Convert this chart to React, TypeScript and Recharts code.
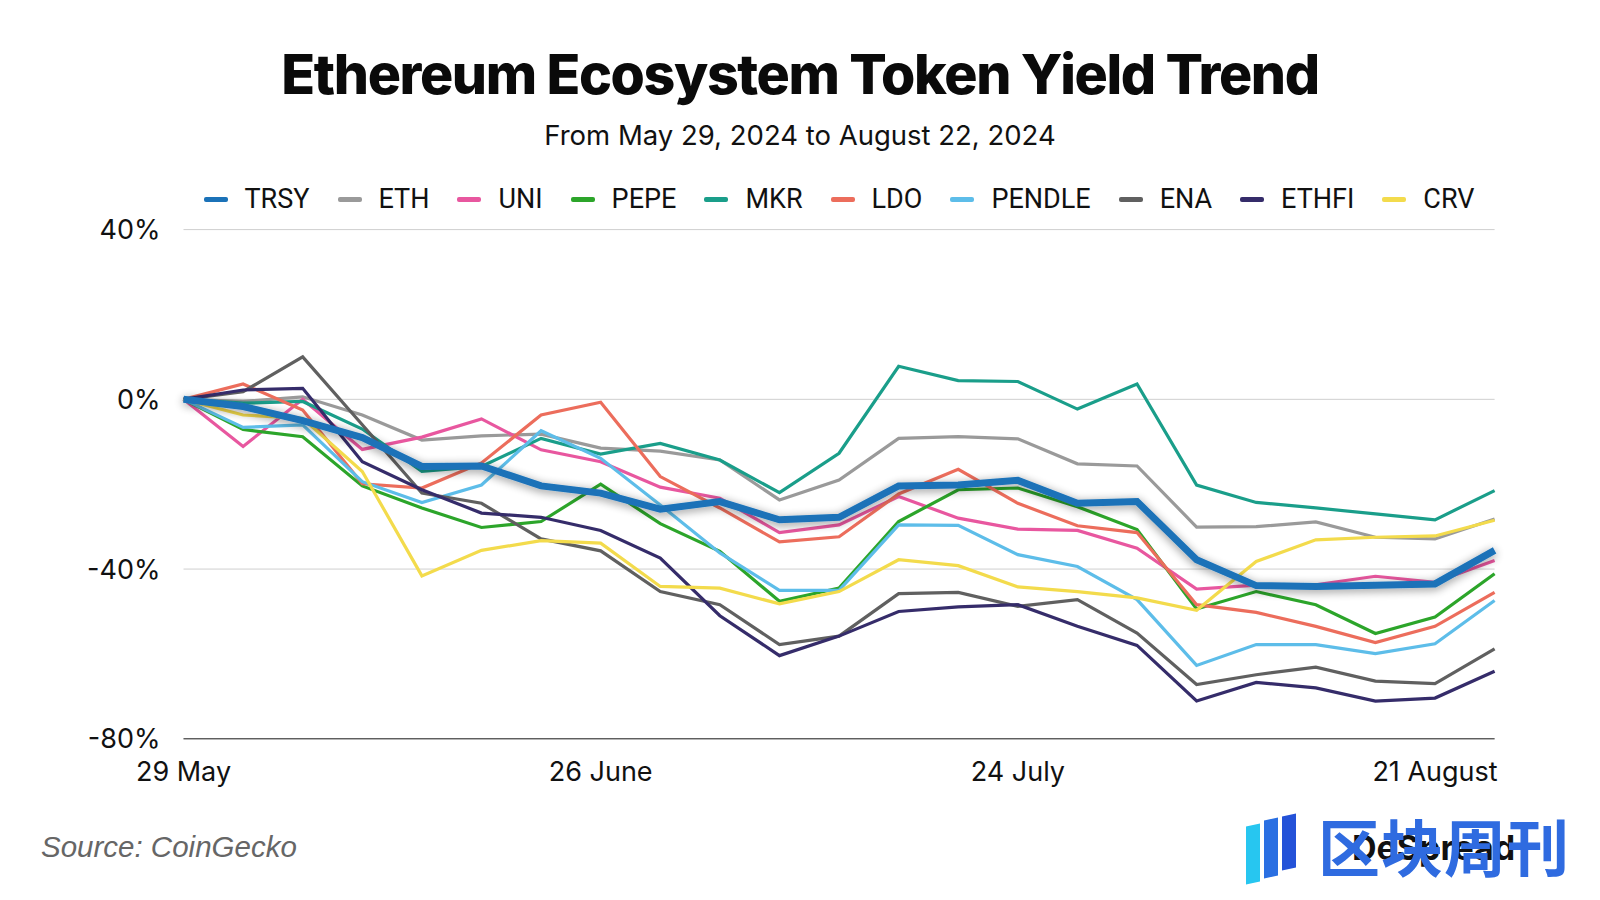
import { LineChart, Line, XAxis, YAxis, CartesianGrid } from 'recharts';

const dates = [
  '29 May', '2 June', '6 June', '10 June', '14 June', '18 June', '22 June', '26 June',
  '30 June', '4 July', '8 July', '12 July', '16 July', '20 July', '24 July', '28 July',
  '1 August', '5 August', '9 August', '13 August', '17 August', '21 August', '25 August',
];

const xTicks = ['29 May', '26 June', '24 July', '21 August'];
const yTicks = [-80, -40, 0, 40];

const trsy = [0, -1.7, -5, -9, -15.8, -15.7, -20.4, -22.1, -25.9, -24.1, -28.4, -27.8, -20.4, -20.2, -19.1, -24.5, -24.1, -37.8, -43.9, -44.1, -43.8, -43.5, -35.6];
const eth = [0, -0.5, 0.6, -3.7, -9.6, -8.6, -8.2, -11.5, -12.2, -14.3, -23.7, -19, -9.2, -8.8, -9.3, -15.2, -15.7, -30.1, -30, -28.9, -32.5, -32.9, -28.2];
const uni = [0, -11.1, 0, -11.8, -8.9, -4.6, -11.9, -14.7, -20.7, -23.3, -31.4, -29.6, -22.9, -28, -30.6, -30.9, -35.1, -44.7, -43.8, -43.7, -41.7, -43.1, -38];
const pepe = [0, -7.1, -8.8, -20.4, -25.6, -30.2, -28.8, -20, -29.3, -35.8, -47.6, -44.5, -28.8, -21.3, -20.9, -25.3, -30.7, -49.4, -45.3, -48.4, -55.2, -51.3, -41.1];
const mkr = [0, -0.9, -0.5, -7, -17, -15.8, -9.2, -12.9, -10.4, -14.3, -22, -12.7, 7.8, 4.4, 4.2, -2.3, 3.6, -20.2, -24.3, -25.6, -27, -28.4, -21.5];
const ldo = [0, 3.6, -2.5, -19.9, -20.9, -15, -3.7, -0.7, -18.2, -25.6, -33.6, -32.4, -22.3, -16.5, -24.5, -29.8, -31.4, -48.4, -50.2, -53.5, -57.3, -53.5, -45.5];
const pendle = [0, -6.6, -6, -19.4, -24.3, -20.2, -7.4, -13.9, -24.9, -36.2, -45, -45, -29.6, -29.7, -36.6, -39.4, -47.2, -62.7, -57.8, -57.8, -59.9, -57.6, -47.4];
const ena = [0, 1.8, 10, -6, -22.1, -24.5, -32.9, -35.7, -45.3, -48.4, -57.8, -55.8, -45.8, -45.5, -48.8, -47.2, -55.1, -67.2, -64.9, -63.1, -66.4, -67, -58.8];
const ethfi = [0, 2.2, 2.6, -14.7, -21.3, -26.8, -27.8, -30.9, -37.4, -51, -60.4, -55.8, -50, -48.9, -48.4, -53.5, -58, -71.1, -66.7, -68, -71.1, -70.4, -64.1];
const crv = [0, -3.7, -4.5, -17, -41.6, -35.6, -33.3, -33.9, -44.1, -44.5, -48.2, -45.3, -37.8, -39.2, -44.2, -45.3, -46.8, -49.7, -38.2, -33.1, -32.5, -32.2, -28.5];

const series = [
  { key: 'TRSY', values: trsy, color: '#1b72b8' },
  { key: 'ETH', values: eth, color: '#9a9a9a' },
  { key: 'UNI', values: uni, color: '#e8579f' },
  { key: 'PEPE', values: pepe, color: '#2ca52a' },
  { key: 'MKR', values: mkr, color: '#1a9e8a' },
  { key: 'LDO', values: ldo, color: '#ec6d5c' },
  { key: 'PENDLE', values: pendle, color: '#5dbde9' },
  { key: 'ENA', values: ena, color: '#606060' },
  { key: 'ETHFI', values: ethfi, color: '#352c6a' },
  { key: 'CRV', values: crv, color: '#f3db4c' },
];

const data = dates.map((d, i) => {
  const row: Record<string, any> = { date: d };
  series.forEach(s => { row[s.key] = s.values[i]; });
  return row;
});

const sansFont = 'Inter, "Noto Sans", sans-serif';

function ChartLegend() {
  return (
    <div style={{
      position: 'absolute', top: 182, left: 183, width: 1312, height: 34,
      display: 'flex', justifyContent: 'center', alignItems: 'center', gap: 28,
      fontFamily: 'Roboto, sans-serif', fontSize: 27, color: '#111',
    }}>
      {series.map(s => (
        <div key={s.key} style={{ display: 'flex', alignItems: 'center', gap: 17 }}>
          <div style={{ width: 24, height: 5, borderRadius: 2, background: s.color }} />
          <span>{s.key}</span>
        </div>
      ))}
    </div>
  );
}

export default function App() {
  const others = series.filter(s => s.key !== 'TRSY');
  const main = series[0];
  return (
    <div style={{ position: 'absolute', top: 0, left: 0, width: 1600, height: 900, background: '#fff', overflow: 'hidden' }}>
      <svg width={0} height={0} style={{ position: 'absolute' }}>
        <defs>
          <filter id="trsyShadow" x="-5%" y="-30%" width="110%" height="160%">
            <feGaussianBlur in="SourceAlpha" stdDeviation="5" />
            <feOffset dy="2" result="blur" />
            <feComponentTransfer>
              <feFuncA type="linear" slope="0.45" />
            </feComponentTransfer>
            <feMerge>
              <feMergeNode />
              <feMergeNode in="SourceGraphic" />
            </feMerge>
          </filter>
        </defs>
      </svg>

      <div style={{
        position: 'absolute', top: 44, left: 0, width: 1600, textAlign: 'center',
        fontFamily: sansFont, fontWeight: 800, fontSize: 55.5, lineHeight: '60px',
        letterSpacing: -1.4, color: '#0a0a0a',
      }}>
        Ethereum Ecosystem Token Yield Trend
      </div>
      <div style={{
        position: 'absolute', top: 119, left: 0, width: 1600, textAlign: 'center',
        fontFamily: sansFont, fontSize: 27.5, lineHeight: '32px', color: '#111',
      }}>
        From May 29, 2024 to August 22, 2024
      </div>

      <ChartLegend />

      <div style={{ position: 'absolute', top: 0, left: 0 }}>
        <LineChart width={1600} height={900} data={data}
          margin={{ top: 229.6, right: 105.4, bottom: 0, left: 83.5 }}>
          <CartesianGrid horizontal vertical={false} stroke="#cfcfcf" />
          <XAxis dataKey="date" ticks={xTicks} interval={0} height={161.2}
            axisLine={{ stroke: '#2a2a2a' }} tickLine={false} tickSize={0} tickMargin={23}
            tick={{ fill: '#111', fontSize: 27, fontFamily: sansFont }} />
          <YAxis domain={[-80, 40]} ticks={yTicks} width={100} axisLine={false}
            tickLine={false} tickSize={0} tickMargin={23}
            tickFormatter={(v: number) => `${v}%`}
            tick={{ fill: '#111', fontSize: 27, fontFamily: sansFont }} />
          {others.map(s => (
            <Line key={s.key} type="linear" dataKey={s.key} stroke={s.color} strokeWidth={3.2}
              dot={false} activeDot={false} isAnimationActive={false} />
          ))}
          <Line type="linear" dataKey={main.key} stroke={main.color} strokeWidth={7}
            dot={false} activeDot={false} isAnimationActive={false}
            filter="url(#trsyShadow)" />
        </LineChart>
      </div>

      <div style={{
        position: 'absolute', top: 829, left: 41, fontFamily: '"Liberation Sans", Arial, sans-serif',
        fontStyle: 'italic', fontSize: 29.5, lineHeight: '36px', color: '#666',
      }}>
        Source: CoinGecko
      </div>

      <div style={{ position: 'absolute', left: 1246, top: 815, width: 60, height: 70 }}>
        <div style={{ position: 'absolute', left: 0, top: 10, width: 14, height: 58, background: '#27c6f0', transform: 'skewY(-12deg)' }} />
        <div style={{ position: 'absolute', left: 18, top: 4, width: 14, height: 58, background: '#2a6fe2', transform: 'skewY(-12deg)' }} />
        <div style={{ position: 'absolute', left: 36, top: 0, width: 14, height: 54, background: '#2452d8', transform: 'skewY(-12deg)' }} />
      </div>
      <div style={{
        position: 'absolute', left: 1352, top: 828, fontFamily: sansFont, fontWeight: 700,
        fontSize: 34, lineHeight: '40px', color: '#111',
      }}>
        DeSpread
      </div>
      <div style={{
        position: 'absolute', left: 1318, top: 810, fontFamily: '"Noto Sans CJK SC", sans-serif',
        fontWeight: 700, fontSize: 62, lineHeight: '70px', color: '#2f6be0', letterSpacing: 1,
      }}>
        区块周刊
      </div>
    </div>
  );
}
